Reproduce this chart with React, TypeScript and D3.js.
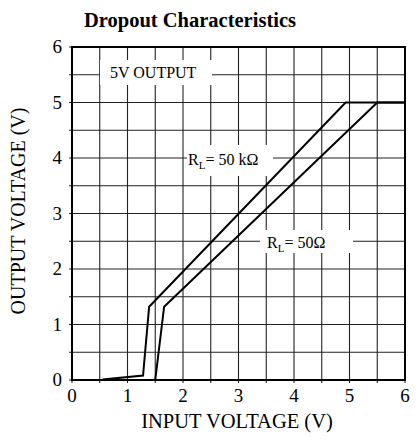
import React from "react";
import * as d3 from "d3";

const title = "Dropout Characteristics";
const xTicks = [0, 1, 2, 3, 4, 5, 6];
const yTicks = [0, 1, 2, 3, 4, 5, 6];
const gridSteps = d3.range(0, 6.01, 0.5);

const rl50kX = [0.55, 1.28, 1.39, 4.93, 6.0];
const rl50kY = [0.01, 0.08, 1.32, 5.0, 5.0];
const rl50X = [1.5, 1.66, 5.5, 6.0];
const rl50Y = [0.0, 1.32, 5.0, 5.0];

const W = 417;
const H = 445;
const L = 72, R = 405, T = 47, B = 380;
const FONT = "'Liberation Serif', 'Times New Roman', serif";

export default function App() {
  const x = d3.scaleLinear().domain([0, 6]).range([L, R]);
  const y = d3.scaleLinear().domain([0, 6]).range([B, T]);
  const line = d3.line<[number, number]>().x(d => x(d[0])).y(d => y(d[1]));
  const s1 = rl50kX.map((v, i) => [v, rl50kY[i]] as [number, number]);
  const s2 = rl50X.map((v, i) => [v, rl50Y[i]] as [number, number]);

  return (
    <div style={{ position: "fixed", left: 0, top: 0 }}>
      <svg width={W} height={H} style={{ display: "block", background: "#fff" }} fontFamily={FONT}>
        <rect x={0} y={0} width={W} height={H} fill="#fff" />
        {gridSteps.map(g => (
          <line key={"v" + g} x1={x(g)} x2={x(g)} y1={T} y2={B + 3} stroke="#222" strokeWidth={1.1} />
        ))}
        {gridSteps.map(g => (
          <line key={"h" + g} x1={L - 3} x2={R} y1={y(g)} y2={y(g)} stroke="#222" strokeWidth={1.1} />
        ))}
        {/* label boxes */}
        <rect x={100} y={60} width={112} height={25} fill="#fff" />
        <text x={110} y={78} fontSize={16}>5V OUTPUT</text>
        <rect x={187} y={145} width={86} height={31} fill="#fff" />
        <text x={188} y={165} fontSize={16}>
          R<tspan fontSize={11} dy={4}>L</tspan><tspan dy={-4}>= 50 kΩ</tspan>
        </text>
        <rect x={260} y={230} width={93} height={23} fill="#fff" />
        <text x={267} y={248} fontSize={16}>
          R<tspan fontSize={11} dy={4}>L</tspan><tspan dy={-4}>= 50Ω</tspan>
        </text>
        <rect x={L} y={T} width={R - L} height={B - T} fill="none" stroke="#000" strokeWidth={2} />
        <path d={line(s1) || ""} fill="none" stroke="#000" strokeWidth={2} strokeLinejoin="miter" />
        <path d={line(s2) || ""} fill="none" stroke="#000" strokeWidth={2} strokeLinejoin="miter" />
        {xTicks.map(t => (
          <text key={"xt" + t} x={x(t)} y={402} fontSize={19} textAnchor="middle">{t}</text>
        ))}
        {yTicks.map(t => (
          <text key={"yt" + t} x={62} y={y(t) + 6} fontSize={19} textAnchor="end">{t}</text>
        ))}
        <text x={237} y={428} fontSize={20.5} textAnchor="middle">INPUT VOLTAGE (V)</text>
        <text transform={`translate(25,${211}) rotate(-90)`} fontSize={20} textAnchor="middle">OUTPUT VOLTAGE (V)</text>
        <text x={190} y={27} fontSize={20.5} fontWeight="bold" textAnchor="middle">{title}</text>
      </svg>
    </div>
  );
}
